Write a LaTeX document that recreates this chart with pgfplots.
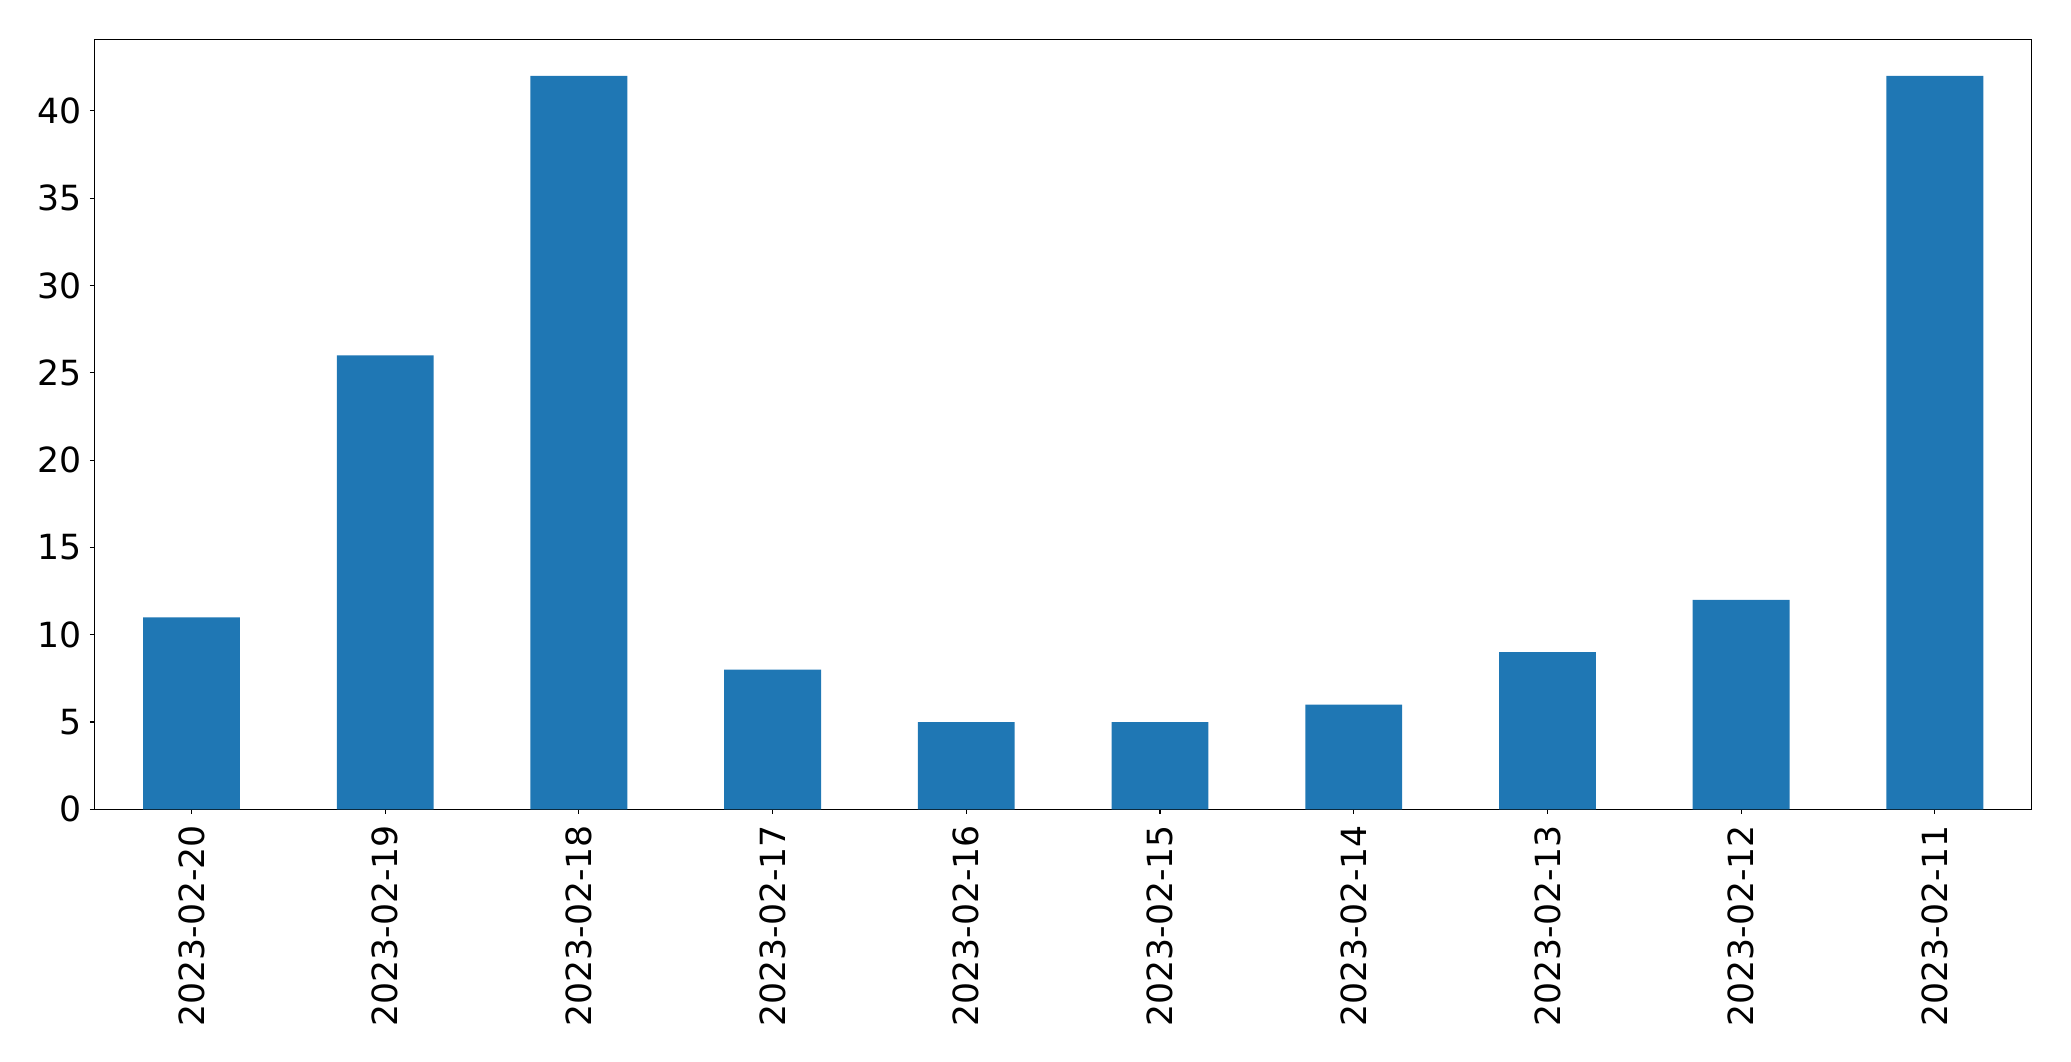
\documentclass[border=0pt]{standalone}
\usepackage{pgfplots}
\pgfplotsset{compat=1.18}
\usepackage{fontspec}
\setmainfont{DejaVu Sans}
\definecolor{mplblue}{HTML}{1F77B4}
\begin{document}
\begin{tikzpicture}
\begin{axis}[
  scale only axis,
  width=1452.8pt, height=577.5pt,
  xmin=-0.5, xmax=9.5, ymin=0, ymax=44.1,
  xtick={0,...,9},
  xticklabels={2023-02-20,2023-02-19,2023-02-18,2023-02-17,2023-02-16,2023-02-15,2023-02-14,2023-02-13,2023-02-12,2023-02-11},
  ytick={0,5,...,40},
  tick pos=left,
  tick align=outside,
  major tick length=3.5pt,
  every tick/.style={black, line width=0.8pt},
  axis line style={line width=0.8pt},
  /pgf/number format/assume math mode=true,
  ticklabel style={font=\fontsize{26}{31}\selectfont},
  xticklabel style={rotate=90, anchor=east, inner sep=0pt, xshift=-8pt},
  yticklabel style={inner sep=0pt, xshift=-6pt},
  ymajorgrids=false,
]
\addplot[ybar, bar width=0.5, fill=mplblue, draw=none] coordinates {
(0,11) (1,26) (2,42) (3,8) (4,5) (5,5) (6,6) (7,9) (8,12) (9,42)
};
\end{axis}
\path[use as bounding box] ([xshift=-71pt,yshift=-188.8pt]current axis.south west) rectangle ([xshift=29.5pt,yshift=29.5pt]current axis.north east);
\end{tikzpicture}
\end{document}
